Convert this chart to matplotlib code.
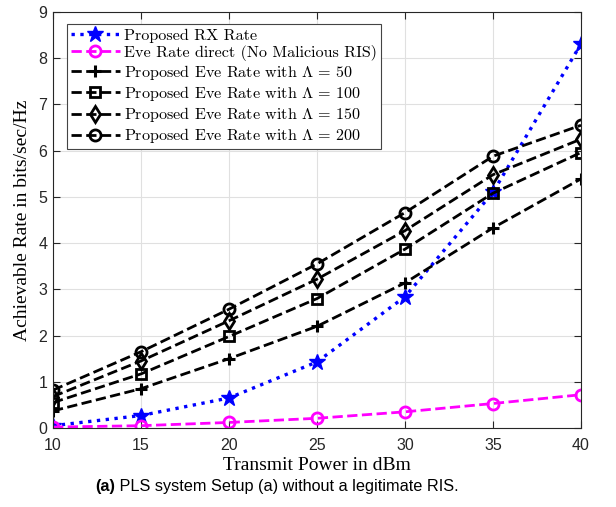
import numpy as np
import matplotlib
matplotlib.use('Agg')
from matplotlib import pyplot as plt

# transmit power (dBm)
power = [10, 15, 20, 25, 30, 35, 40]

# achievable rates
rx_rate = [0.05, 0.27, 0.65, 1.43, 2.84, 5.10, 8.31]
eve_direct = [0.02, 0.05, 0.12, 0.21, 0.35, 0.53, 0.72]
eve_50 = [0.37, 0.85, 1.50, 2.20, 3.14, 4.33, 5.39]
eve_100 = [0.55, 1.17, 1.98, 2.80, 3.87, 5.08, 5.96]
eve_150 = [0.68, 1.45, 2.32, 3.22, 4.27, 5.48, 6.25]
eve_200 = [0.82, 1.65, 2.57, 3.55, 4.66, 5.88, 6.55]

labels = ['Proposed RX Rate',
          'Eve Rate direct (No Malicious RIS)',
          r'Proposed Eve Rate with $\Lambda$ = 50',
          r'Proposed Eve Rate with $\Lambda$ = 100',
          r'Proposed Eve Rate with $\Lambda$ = 150',
          r'Proposed Eve Rate with $\Lambda$ = 200']

plt.rcParams['mathtext.fontset'] = 'cm'

fig = plt.figure(figsize=(6.16, 5.07), dpi=100)
ax = fig.add_axes([53/616, 1-428/507, (581-53)/616, (428-12)/507])

ax.plot(power, rx_rate, ':', color='blue', lw=2.4, marker='*', ms=12, label=labels[0])
ax.plot(power, eve_direct, '--', color='magenta', lw=2, marker='o', ms=8,
        mfc='none', mew=2, label=labels[1])
ax.plot(power, eve_50, '--', color='black', lw=2, marker='+', ms=8, mew=2.2, label=labels[2])
ax.plot(power, eve_100, '--', color='black', lw=2, marker='s', ms=7, mfc='none', mew=2, label=labels[3])
ax.plot(power, eve_150, '--', color='black', lw=2, marker='d', ms=8, mfc='none', mew=2, label=labels[4])
ax.plot(power, eve_200, '--', color='black', lw=2, marker='o', ms=8, mfc='none', mew=2, label=labels[5])

ax.set_xlim(10, 40)
ax.set_ylim(0, 9)
ax.set_xticks(power)
ax.set_yticks(range(10))
ax.grid(True, color='#e0e0e0', lw=0.8)
ax.set_axisbelow(True)
ax.tick_params(direction='in', top=True, right=True, labelsize=11.5, length=5,
               color='#262626', labelcolor='#262626')
ax.tick_params(axis='x', pad=7)
ax.tick_params(axis='y', pad=4)
for lab in ax.get_xticklabels() + ax.get_yticklabels():
    lab.set_family('Liberation Sans')
for s in ax.spines.values():
    s.set_color('#262626')

ax.set_xlabel('Transmit Power in dBm', family='Liberation Serif', fontsize=14, labelpad=3)
ax.set_ylabel('Achievable Rate in bits/sec/Hz', family='Liberation Serif', fontsize=14, labelpad=5)

leg = ax.legend(loc='upper left', bbox_to_anchor=(0.027, 0.97), prop={'family': 'cmr10', 'size': 11.6},
                fancybox=False, edgecolor='#444444', framealpha=1, handlelength=3.0,
                borderpad=0.25, labelspacing=0.13, handletextpad=0.25, borderaxespad=0)
leg.get_frame().set_linewidth(0.8)

# caption: bold "(a)" followed by normal text, centered as a whole
cy = 1 - 486/507
fig.canvas.draw()
r = fig.canvas.get_renderer()
t1 = fig.text(0, cy, '(a)', weight='bold', family='Liberation Sans', fontsize=11.7, va='center')
t2 = fig.text(0, cy, ' PLS system Setup (a) without a legitimate RIS.', family='Liberation Sans',
              fontsize=11.7, va='center')
w1 = t1.get_window_extent(r).width
w2 = t2.get_window_extent(r).width
x0 = 277 - (w1 + w2) / 2
t1.set_x(x0 / 616)
t2.set_x((x0 + w1) / 616)

plt.savefig('out.png', dpi=100)
